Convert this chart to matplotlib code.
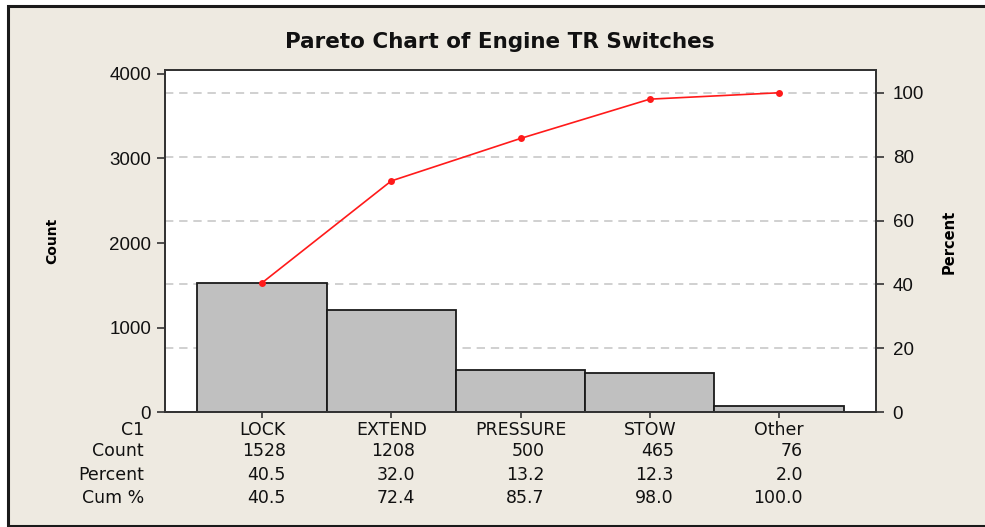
import matplotlib
matplotlib.use("Agg")
import matplotlib.pyplot as plt
import matplotlib.transforms as mtransforms
from matplotlib.patches import Rectangle
import numpy as np

categories = ["LOCK", "EXTEND", "PRESSURE", "STOW", "Other"]
counts = [1528, 1208, 500, 465, 76]
percent_labels = ["40.5", "32.0", "13.2", "12.3", "2.0"]
cum_labels = ["40.5", "72.4", "85.7", "98.0", "100.0"]
cum_values = [40.5, 72.4, 85.7, 98.0, 100.0]
left_ticks = [0, 1000, 2000, 3000, 4000]
right_ticks = [0, 20, 40, 60, 80, 100]

W, H = 985, 527
fig = plt.figure(figsize=(W / 100, H / 100), dpi=100)
fig.patch.set_facecolor("white")

# beige frame
fig.patches.append(Rectangle((8 / W, 1 - 526 / H), (W + 5 - 8) / W, (526 - 6) / H,
                             transform=fig.transFigure, facecolor="#EEEAE1",
                             edgecolor="#1a1a1a", linewidth=2.2, zorder=0))

ax_left, ax_right, ax_top, ax_bot = 165, 876, 69.5, 412.3
ax = fig.add_axes([ax_left / W, 1 - ax_bot / H, (ax_right - ax_left) / W, (ax_bot - ax_top) / H])
ax.set_facecolor("white")

total = sum(counts)
ymax = 4052
ax.set_ylim(0, ymax)
ax.set_xlim(-0.75, 4.75)
x = np.arange(len(categories))

ax.bar(x, counts, width=1.0, color="#C0C0C0", edgecolor="#1a1a1a", linewidth=1.3, zorder=2)

ax2 = ax.twinx()
ax2.set_ylim(0, ymax / total * 100)
ax2.set_yticks(right_ticks)
ax2.plot(x, cum_values, color="#FF1A1A", linewidth=1.2, marker="o", markersize=5,
         markeredgewidth=0, zorder=5)

ax.set_zorder(1)
ax2.set_zorder(2)
ax2.patch.set_visible(False)
for v in right_ticks[1:]:
    ax.axhline(v / 100 * total, color="#C8C8C8", linestyle=(0, (5, 3.5)), linewidth=1.2, zorder=1)

ax.set_yticks(left_ticks)
ax.set_xticks(x)
ax.set_xticklabels([])

for a in (ax, ax2):
    for s in a.spines.values():
        s.set_color("#333333")
        s.set_linewidth(1.3)
ax.tick_params(axis="y", direction="out", length=6, width=1.2, color="#333333", pad=4,
               labelsize=13.5)
ax.tick_params(axis="x", direction="out", length=4, width=1.2, color="#333333")
ax2.tick_params(axis="y", direction="out", length=6, width=1.2, color="#333333", pad=6,
                labelsize=13.5)
for lab in ax.get_yticklabels() + ax2.get_yticklabels():
    lab.set_family("Liberation Sans")
    lab.set_color("#111111")

fig.text(500 / W, 1 - 42 / H, "Pareto Chart of Engine TR Switches", ha="center", va="center",
         family="DejaVu Sans", weight="bold", size=15.5, color="#111111")
fig.text(52 / W, 1 - 241 / H, "Count", rotation=90, ha="center", va="center",
         family="DejaVu Sans", weight="bold", size=10, color="black")
fig.text(949 / W, 1 - 242 / H, "Percent", rotation=90, ha="center", va="center",
         family="DejaVu Sans", weight="bold", size=10.5, color="black")

# table under the chart
trans = mtransforms.blended_transform_factory(ax.transData, fig.transFigure)
row_y = [430, 450.5, 475.5, 498]
row_names = ["C1", "Count", "Percent", "Cum %"]
tfont = dict(family="DejaVu Sans", size=12.5, color="#111111")
for name, yy in zip(row_names, row_y):
    fig.text(144 / W, 1 - yy / H, name, ha="right", va="center", **tfont)
offset = 0.185
count_labels = [str(c) for c in counts]
for i in range(len(categories)):
    ax.text(x[i], 1 - row_y[0] / H, categories[i], ha="center", va="center", transform=trans, **tfont)
    for labels, yy in ((count_labels, row_y[1]), (percent_labels, row_y[2]), (cum_labels, row_y[3])):
        ax.text(x[i] + offset, 1 - yy / H, labels[i], ha="right", va="center", transform=trans, **tfont)

fig.savefig("out.png", dpi=100, facecolor=fig.get_facecolor())
